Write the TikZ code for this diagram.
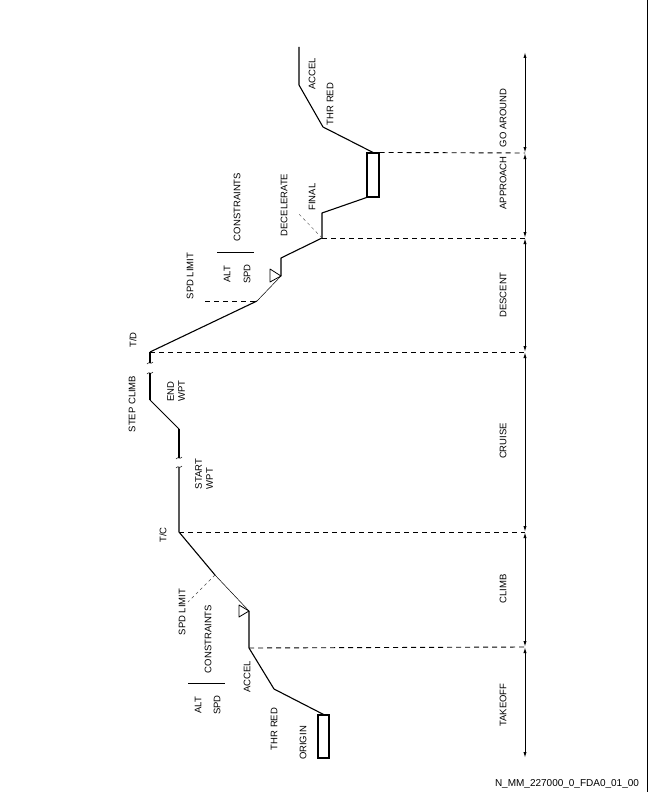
\documentclass[tikz,border=0pt]{standalone}
\usepackage{fontspec}
\setmainfont{Liberation Sans}
\usetikzlibrary{arrows.meta}
\begin{document}
\begin{tikzpicture}[x=1pt,y=-1pt,
  prof/.style={line width=1.1pt, line join=round},
  thinprof/.style={line width=0.5pt},
  midprof/.style={line width=0.75pt},
  dashline/.style={dash pattern=on 5pt off 4pt, line width=0.9pt},
  leader/.style={dash pattern=on 3pt off 3pt, line width=0.4pt, black!70},
  axisline/.style={line width=1pt, {Latex[length=6pt,width=3.2pt]}-{Latex[length=6pt,width=3.2pt]}},
  lbl/.style={font=\fontsize{9.5}{11}\selectfont, rotate=90, inner sep=0pt},
  box/.style={draw, line width=1.1pt, inner sep=0pt},
  brkmark/.pic={\draw[line width=0.5pt] (-3,1) .. controls (-1,-2) and (1,2) .. (3,-1);}
]
\useasboundingbox (0,0) rectangle (648,792);
\draw[line width=1pt] (647,0) -- (647,792);

% axis boundary points
\coordinate (a0) at (525,52);
\coordinate (a1) at (525,153);
\coordinate (a2) at (525,238);
\coordinate (a3) at (525,352);
\coordinate (a4) at (525,532);
\coordinate (a5) at (525,647);
\coordinate (a6) at (525,758);
\foreach \p/\q in {a0/a1,a1/a2,a2/a3,a3/a4,a4/a5,a5/a6}
  \draw[axisline] (\p) -- (\q);

% phase labels
\node[lbl] (lgo) at (503,118) {GO AROUND};
\node[lbl] (lapp) at (503,183) {APPROACH};
\node[lbl] (ldes) at (503,295) {DESCENT};
\node[lbl] (lcru) at (503,441) {CRUISE};
\node[lbl] (lclb) at (503,589) {CLIMB};
\node[lbl] (lto) at (503,705) {TAKEOFF};

% boxes
\node[box, minimum width=11pt, minimum height=43pt] (origin) at (323.5,736.5) {};
\node[box, minimum width=12pt, minimum height=44pt] (dest) at (373,175) {};

% profile points
\coordinate (thr1) at (274,689);
\coordinate (acc1) at (249,648);
\coordinate (apex1) at (249,611);
\coordinate (t1a) at (239,605);
\coordinate (t1b) at (239,617);
\coordinate (spd1) at (215,575);
\coordinate (spdlead1) at (188,602);
\coordinate (tc) at (179,532);
\coordinate (sw1) at (179,467);
\coordinate (sw2) at (179,458);
\coordinate (sc1) at (179,429);
\coordinate (sc2) at (150,400);
\coordinate (ew1) at (150,373);
\coordinate (ew2) at (150,363);
\coordinate (td) at (150,352);
\coordinate (spd2) at (257,301);
\coordinate (spdlead2) at (205,301);
\coordinate (apex2) at (281,276);
\coordinate (t2a) at (270,269);
\coordinate (t2b) at (270,282);
\coordinate (d1) at (281,258);
\coordinate (decel) at (322,238);
\coordinate (declead) at (298,213);
\coordinate (fin) at (322,213);
\coordinate (thr2) at (323,127);
\coordinate (acc2) at (299,85);
\coordinate (top) at (299,47);

% profile
\draw[prof] (origin.north) -- (thr1) -- (acc1) -- (apex1);
\draw[line width=0.8pt, line join=round] (t1a) -- (apex1) -- (t1b) -- cycle;
\draw[thinprof] (apex1) -- (spd1);
\draw[prof] (spd1) -- (tc) -- (sw1);
\draw[prof] (sw2) -- (sc1);
\draw[midprof] (sc1) -- (sc2);
\draw[prof] (sc2) -- (ew1);
\draw[prof] (ew2) -- (td);
\draw[prof] (td) -- (spd2);
\draw[thinprof] (spd2) -- (apex2);
\draw[line width=0.8pt, line join=round] (t2a) -- (apex2) -- (t2b) -- cycle;
\draw[prof] (apex2) -- (d1) -- (decel) -- (fin) -- (dest.south west);
\draw[prof] (dest.north) -- (thr2) -- (acc2) -- (top);

% break marks
\pic at (sw1) {brkmark};
\pic at (sw2) {brkmark};
\pic at (ew1) {brkmark};
\pic at (ew2) {brkmark};

% dashed phase boundaries
\draw[dashline] (acc1) -- (a5);
\draw[dashline] (tc) -- (a4);
\draw[dashline] (td) -- (a3);
\draw[dashline] (decel) -- (a2);
\draw[dashline] (dest.north east) -- (a1);

% leaders
\draw[leader] (spd1) -- (spdlead1);
\draw[dashline] (spdlead2) -- (spd2);
\draw[leader] (decel) -- (declead);

% constraint separators
\coordinate (c1a) at (188,683);
\coordinate (c1b) at (225,683);
\coordinate (c2a) at (217,252);
\coordinate (c2b) at (254,252);
\draw[line width=0.9pt] (c1a) -- (c1b);
\draw[line width=0.9pt] (c2a) -- (c2b);

% labels
\node[lbl] (lorig) at (303,743) {ORIGIN};
\node[lbl] (lthr1) at (274,729) {THR RED};
\node[lbl] (lacc1) at (247,677) {ACCEL};
\node[lbl] (lalt1) at (198,705) {ALT};
\node[lbl] (lspd1) at (217,705) {SPD};
\node[lbl] (lcon1) at (208,639) {CONSTRAINTS};
\node[lbl] (lsl1) at (182,612) {SPD LIMIT};
\node[lbl] (ltc) at (163,535) {T/C};
\node[lbl, align=left] (lsw) at (204,474) {START\\WPT};
\node[lbl, align=left] (lew) at (176,391) {END\\WPT};
\node[lbl] (lstep) at (132,404) {STEP CLIMB};
\node[lbl] (ltd) at (133,340) {T/D};
\node[lbl] (lsl2) at (190,276) {SPD LIMIT};
\node[lbl] (lalt2) at (227,274) {ALT};
\node[lbl] (lspd2) at (247,274) {SPD};
\node[lbl] (lcon2) at (237,207) {CONSTRAINTS};
\node[lbl] (ldec) at (284,205) {DECELERATE};
\node[lbl] (lfin) at (312,197) {FINAL};
\node[lbl] (lthr2) at (330,104) {THR RED};
\node[lbl] (lacc2) at (312,74) {ACCEL};

\node[font=\fontsize{10}{12}\selectfont, inner sep=0pt] (foot) at (567,784) {N\_MM\_227000\_0\_FDA0\_01\_00};
\end{tikzpicture}
\end{document}
